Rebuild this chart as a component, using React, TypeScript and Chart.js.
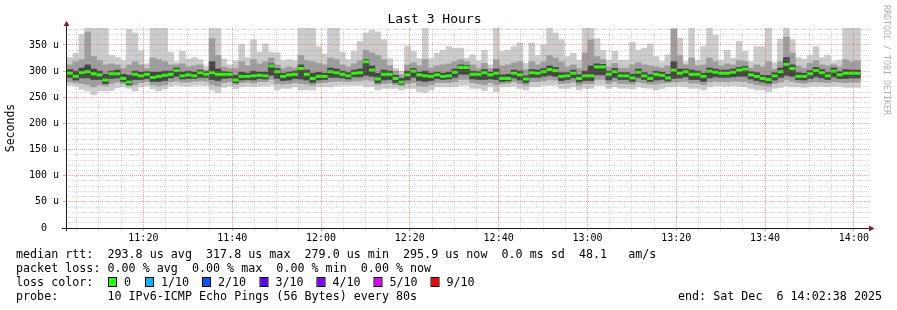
import React, { useEffect, useRef } from 'react';
import { Chart, registerables } from 'chart.js';

Chart.register(...registerables);

// ---- time axis (minutes after 11:00) ----
const FIRST_SAMPLE_MIN = 2.8; // 11:02:48, start of first 80 s step
const STEP_MIN = 80 / 60;
const X_MIN = 2.8;
const X_MAX = 183.4;
const Y_MAX = 382.5;

const timeLabels = ['11:20', '11:40', '12:00', '12:20', '12:40', '13:00', '13:20', '13:40', '14:00'];
const yTickLabels = ['0  ', '50 u', '100 u', '150 u', '200 u', '250 u', '300 u', '350 u'];

// ---- smoke data (microseconds) ----
const medianRtt = [
  296, 290, 297, 299, 295, 293, 283, 295, 295, 286,
  279, 294, 291, 294, 288, 290, 292, 294, 301, 291,
  293, 291, 297, 294, 297, 294, 294, 294, 283, 290,
  290, 291, 292, 291, 310, 299, 290, 293, 294, 305,
  294, 286, 290, 290, 299, 297, 294, 291, 296, 297,
  317.8, 302, 285, 294, 294, 286, 279, 293, 300, 293,
  291, 290, 293, 290, 291, 298, 307, 307, 294, 294,
  297, 293, 296, 286, 286, 296, 293, 285, 297, 296,
  299, 303, 301, 290, 291, 296, 286, 291, 291, 308,
  308, 294, 299, 291, 291, 287, 298, 291, 286, 294,
  292, 287, 302, 296, 299, 294, 294, 290, 300, 298,
  296, 296, 298, 302, 304, 293, 290, 286, 284, 291,
  299, 313, 305, 290, 290, 295, 301, 297, 291, 300,
  293, 296, 296, 295.9,
];

const maxRtt = [
  326, 334, 370, 382, 382, 382, 382, 330, 326, 320,
  380, 373, 339, 314, 382, 382, 382, 336, 318, 338,
  323, 326, 322, 309, 382, 382, 323, 312, 320, 351,
  326, 360, 336, 352, 336, 335, 320, 322, 320, 382,
  382, 382, 347, 333, 382, 382, 336, 322, 338, 357,
  373, 378, 375, 360, 324, 305, 300, 348, 338, 324,
  382, 324, 334, 340, 347, 344, 344, 325, 331, 320,
  340, 312, 382, 338, 340, 347, 354, 315, 354, 330,
  350, 382, 373, 360, 328, 334, 321, 382, 382, 362,
  340, 321, 338, 321, 321, 355, 340, 344, 352, 328,
  318, 331, 382, 363, 318, 382, 321, 347, 382, 369,
  321, 340, 325, 357, 338, 318, 347, 347, 382, 316,
  361, 382, 360, 326, 323, 330, 347, 326, 330, 318,
  321, 382, 382, 382,
];

const minRtt = [
  273, 272, 265, 262, 255, 262, 262, 263, 268, 270,
  267, 262, 270, 272, 266, 262, 266, 272, 273, 271,
  271, 273, 273, 272, 264, 259, 269, 271, 266, 270,
  271, 270, 272, 272, 273, 264, 267, 267, 270, 264,
  264, 264, 270, 270, 270, 272, 273, 273, 273, 273,
  270, 270, 264, 267, 267, 267, 264, 267, 267, 261,
  259, 264, 270, 270, 270, 270, 273, 273, 267, 267,
  263, 270, 261, 270, 270, 271, 267, 264, 270, 270,
  273, 273, 273, 267, 267, 270, 264, 267, 267, 273,
  273, 267, 270, 267, 267, 266, 270, 268, 267, 264,
  267, 270, 270, 271, 270, 267, 267, 264, 270, 272,
  272, 271, 272, 271, 270, 267, 264, 264, 261, 267,
  269, 272, 270, 270, 269, 271, 271, 271, 270, 271,
  271, 269, 269, 269,
];

const upperMid = [
  312, 318, 322, 375, 328, 320, 312, 314, 312, 305,
  312, 318, 312, 305, 325, 322, 318, 312, 312, 314,
  308, 310, 312, 302, 362, 330, 308, 305, 306, 318,
  310, 322, 314, 318, 325, 312, 305, 308, 306, 330,
  320, 318, 315, 312, 325, 322, 312, 308, 314, 320,
  340, 335, 330, 322, 310, 300, 293, 312, 316, 310,
  322, 306, 310, 312, 314, 318, 322, 318, 312, 306,
  315, 305, 322, 310, 312, 316, 318, 303, 318, 312,
  318, 330, 325, 318, 308, 312, 305, 335, 360, 328,
  322, 308, 315, 306, 306, 312, 316, 312, 310, 308,
  306, 310, 380, 330, 312, 325, 310, 312, 325, 318,
  310, 314, 312, 320, 318, 306, 312, 308, 318, 304,
  318, 365, 335, 310, 306, 315, 320, 312, 310, 312,
  308, 322, 318, 320,
];

const lowerMid = [
  280, 278, 276, 274, 270, 274, 272, 276, 279, 276,
  272, 274, 278, 280, 274, 272, 274, 280, 282, 279,
  279, 281, 282, 281, 274, 272, 278, 280, 274, 278,
  279, 277, 280, 280, 284, 276, 275, 276, 278, 276,
  275, 273, 277, 278, 280, 281, 281, 280, 282, 282,
  284, 282, 274, 276, 277, 274, 272, 276, 278, 272,
  271, 274, 278, 278, 278, 280, 284, 284, 278, 276,
  274, 278, 274, 276, 277, 280, 276, 273, 280, 280,
  282, 284, 283, 276, 277, 279, 273, 276, 276, 284,
  284, 276, 280, 276, 276, 275, 279, 277, 275, 275,
  277, 278, 279, 280, 281, 277, 277, 274, 279, 281,
  280, 280, 281, 281, 280, 277, 274, 273, 271, 276,
  279, 284, 281, 278, 277, 279, 280, 279, 278, 280,
  279, 278, 279, 279,
];

const upperCore = [
  303, 300, 306, 312, 304, 300, 294, 300, 302, 294,
  292, 300, 298, 299, 298, 298, 300, 300, 306, 298,
  300, 298, 302, 299, 318, 304, 299, 298, 292, 298,
  296, 300, 298, 298, 314, 305, 296, 298, 300, 312,
  302, 296, 298, 296, 306, 304, 300, 297, 302, 304,
  322, 310, 296, 302, 300, 292, 286, 300, 305, 298,
  300, 296, 298, 296, 298, 304, 312, 311, 300, 299,
  303, 298, 304, 293, 294, 302, 300, 291, 303, 302,
  305, 310, 307, 297, 297, 302, 293, 300, 310, 314,
  313, 300, 305, 297, 297, 294, 304, 297, 293, 300,
  298, 294, 318, 304, 304, 302, 300, 296, 306, 304,
  302, 302, 304, 307, 309, 299, 297, 292, 292, 297,
  306, 326, 312, 297, 296, 301, 307, 303, 297, 306,
  299, 303, 302, 302,
];

const lowerCore = [
  288, 283, 287, 287, 284, 284, 276, 286, 287, 280,
  274, 284, 284, 286, 280, 280, 282, 287, 290, 285,
  286, 286, 288, 288, 284, 282, 286, 287, 278, 283,
  284, 283, 286, 285, 292, 286, 282, 283, 286, 285,
  283, 278, 283, 284, 288, 288, 287, 285, 289, 289,
  292, 290, 278, 283, 284, 278, 275, 283, 288, 282,
  280, 282, 286, 284, 285, 288, 294, 294, 285, 284,
  284, 285, 284, 280, 281, 287, 283, 278, 288, 288,
  290, 292, 290, 282, 284, 287, 279, 282, 282, 293,
  293, 283, 288, 284, 284, 280, 288, 284, 280, 283,
  284, 281, 286, 287, 289, 284, 284, 280, 287, 289,
  288, 288, 289, 290, 290, 285, 282, 279, 277, 283,
  288, 292, 290, 284, 283, 286, 289, 287, 284, 289,
  286, 286, 287, 287,
];

// ---- legend texts ----
const statLine = 'median rtt:  293.8 us avg  317.8 us max  279.0 us min  295.9 us now  0.0 ms sd  48.1   am/s';
const lossLine = 'packet loss: 0.00 % avg  0.00 % max  0.00 % min  0.00 % now';
const lossColorLabels = ['0', '1/10', '2/10', '3/10', '4/10', '5/10', '9/10'];
const lossColors = ['#26ff00', '#00b8ff', '#0059ff', '#5e00ff', '#7e00ff', '#dd00ff', '#ff0000'];
const probeLine = 'probe:       10 IPv6-ICMP Echo Pings (56 Bytes) every 80s';
const endLine = 'end: Sat Dec  6 14:02:38 2025';
const watermark = 'RRDTOOL / TOBI OETIKER';

const MONO = '"DejaVu Sans Mono", monospace';
const MAJOR_GRID = 'rgba(222, 70, 70, 0.5)';
const MINOR_GRID = 'rgba(140, 140, 140, 0.34)';

const labelMinutes = timeLabels.map((t) => {
  const [h, m] = t.split(':').map(Number);
  return (h - 11) * 60 + m;
});

const xGrid: number[] = [];
for (let m = 5; m <= X_MAX; m += 5) xGrid.push(m);
const yGrid: number[] = [];
for (let v = 10; v <= Y_MAX; v += 10) yGrid.push(v);
const isMajorX = (v: number) => Math.round(v) % 20 === 0;
const isMajorY = (v: number) => Math.round(v) % 50 === 0;

// dotted rrdtool-style grid drawn over the smoke, positioned through the chart scales
const gridPlugin = {
  id: 'dotGrid',
  afterDatasetsDraw(chart: any) {
    const { ctx, chartArea: a, scales } = chart;
    const xs = scales.x;
    const ys = scales.y;
    const top = Math.round(a.top);
    const bottom = Math.round(a.bottom);
    const left = Math.round(a.left);
    const right = Math.round(a.right);
    ctx.save();
    xGrid.forEach((v) => {
      const px = Math.floor(xs.getPixelForValue(v));
      ctx.fillStyle = isMajorX(v) ? MAJOR_GRID : MINOR_GRID;
      for (let yy = top; yy < bottom; yy += 2) ctx.fillRect(px, yy, 1, 1);
      ctx.fillRect(px, bottom + 1, 1, 2);
    });
    yGrid.forEach((v) => {
      const py = Math.floor(ys.getPixelForValue(v));
      ctx.fillStyle = isMajorY(v) ? MAJOR_GRID : MINOR_GRID;
      for (let xx = left + 1; xx < right; xx += 2) ctx.fillRect(xx, py, 1, 1);
      if (isMajorY(v)) ctx.fillRect(left - 4, py, 3, 1);
    });
    ctx.restore();
  },
};

const decorPlugin = {
  id: 'decor',
  afterDraw(chart: any) {
    const { ctx, chartArea: a } = chart;
    ctx.save();
    // axes
    ctx.strokeStyle = '#1f1f1f';
    ctx.lineWidth = 1;
    ctx.beginPath();
    ctx.moveTo(a.left - 5, a.bottom + 0.5);
    ctx.lineTo(a.right + 1, a.bottom + 0.5);
    ctx.moveTo(a.left - 0.5, a.bottom + 3);
    ctx.lineTo(a.left - 0.5, a.top - 3);
    ctx.stroke();
    // arrows
    ctx.fillStyle = '#7f1f1f';
    ctx.beginPath();
    ctx.moveTo(a.left - 3.5, a.top - 2);
    ctx.lineTo(a.left + 2.5, a.top - 2);
    ctx.lineTo(a.left - 0.5, a.top - 7);
    ctx.closePath();
    ctx.fill();
    ctx.beginPath();
    ctx.moveTo(a.right, a.bottom - 2.5);
    ctx.lineTo(a.right, a.bottom + 3.5);
    ctx.lineTo(a.right + 5.5, a.bottom + 0.5);
    ctx.closePath();
    ctx.fill();

    // legend text
    ctx.fillStyle = '#000';
    ctx.font = `11.7px ${MONO}`;
    ctx.textBaseline = 'middle';
    ctx.textAlign = 'left';
    ctx.fillText(statLine, 16, 254.5);
    ctx.fillText(lossLine, 16, 268.5);
    ctx.fillText('loss color:', 16, 282.5);
    ctx.fillText(probeLine, 16, 296.5);
    ctx.fillText(endLine, 678, 296.5);
    const boxX = [109, 146, 203, 260.5, 317.5, 374.5, 431.5];
    lossColorLabels.forEach((lab, i) => {
      const x = boxX[i];
      ctx.fillStyle = lossColors[i];
      ctx.fillRect(x, 278, 7, 8);
      ctx.strokeStyle = '#000';
      ctx.strokeRect(x - 0.5, 277.5, 8, 9);
      ctx.fillStyle = '#000';
      ctx.fillText(lab, x + 15, 282.5);
    });

    // watermark
    ctx.save();
    ctx.translate(886, 5);
    ctx.rotate(Math.PI / 2);
    ctx.fillStyle = '#b0b0b0';
    ctx.font = `8.3px ${MONO}`;
    ctx.textBaseline = 'middle';
    ctx.fillText(watermark, 0, 0);
    ctx.restore();
    ctx.restore();
  },
};

export default function App() {
  const ref = useRef<HTMLCanvasElement | null>(null);

  useEffect(() => {
    if (!ref.current) return;
    const times = medianRtt.map((_, i) => FIRST_SAMPLE_MIN + (i + 0.5) * STEP_MIN);
    const band = (lo: number[], hi: number[], color: string, order: number) => ({
      type: 'bar' as const,
      data: lo.map((l, i) => ({ x: times[i], y: [l, hi[i]] })),
      backgroundColor: color,
      borderWidth: 0,
      barPercentage: 1,
      categoryPercentage: 1,
      grouped: false,
      order,
    });

    const chart = new Chart(ref.current, {
      type: 'bar',
      data: {
        datasets: [
          {
            type: 'line' as const,
            data: medianRtt.map((m, i) => ({ x: times[i], y: m })),
            showLine: false,
            pointStyle: 'line',
            pointRadius: 3,
            pointHoverRadius: 3,
            pointBorderWidth: 3,
            pointHoverBorderWidth: 3,
            pointBorderColor: '#26ff00',
            pointBackgroundColor: '#26ff00',
            order: 0,
          } as any,
          band(lowerCore, upperCore, '#464646', 1),
          band(lowerMid, upperMid, '#9e9e9e', 2),
          band(minRtt, maxRtt, '#cccccc', 3),
        ],
      },
      plugins: [gridPlugin, decorPlugin],
      options: {
        responsive: false,
        animation: false,
        devicePixelRatio: 1,
        events: [],
        layout: { padding: { left: 0, right: 28, top: 0, bottom: 62 } },
        plugins: {
          legend: { display: false },
          tooltip: { enabled: false },
          title: {
            display: true,
            text: 'Last 3 Hours',
            color: '#000',
            font: { family: MONO, size: 13, weight: 'normal', lineHeight: 16 / 13 },
            padding: { top: 12, bottom: 0 },
          },
        },
        scales: {
          x: {
            type: 'linear',
            min: X_MIN,
            max: X_MAX,
            offset: false,
            afterBuildTicks: (scale: any) => {
              scale.ticks = labelMinutes.map((v) => ({ value: v }));
            },
            afterFit: (scale: any) => {
              scale.height = 20;
            },
            grid: { display: false, drawTicks: false },
            border: { display: false },
            ticks: {
              autoSkip: false,
              maxRotation: 0,
              padding: 4,
              color: '#000',
              font: { family: MONO, size: 10 },
              callback: (v: any) => {
                const idx = labelMinutes.findIndex((m) => Math.abs(m - Number(v)) < 1e-6);
                return idx >= 0 ? timeLabels[idx] : '';
              },
            },
          },
          y: {
            type: 'linear',
            min: 0,
            max: Y_MAX,
            afterBuildTicks: (scale: any) => {
              scale.ticks = yTickLabels.map((_, i) => ({ value: i * 50 }));
            },
            afterFit: (scale: any) => {
              scale.width = 67;
            },
            grid: { display: false, drawTicks: false },
            border: { display: false },
            title: {
              display: true,
              text: 'Seconds',
              color: '#000',
              font: { family: MONO, size: 11.5 },
              padding: { top: 4, bottom: 0 },
            },
            ticks: {
              autoSkip: false,
              padding: 8,
              color: '#000',
              font: { family: MONO, size: 10 },
              callback: (v: any) => yTickLabels[Math.round(Number(v) / 50)] ?? '',
            },
          },
        },
      } as any,
    });
    return () => chart.destroy();
  }, []);

  return (
    <div style={{ position: 'fixed', left: 0, top: 0, width: 897, height: 310, background: '#fff' }}>
      <canvas ref={ref} width={897} height={310} style={{ display: 'block', width: 897, height: 310 }} />
    </div>
  );
}
